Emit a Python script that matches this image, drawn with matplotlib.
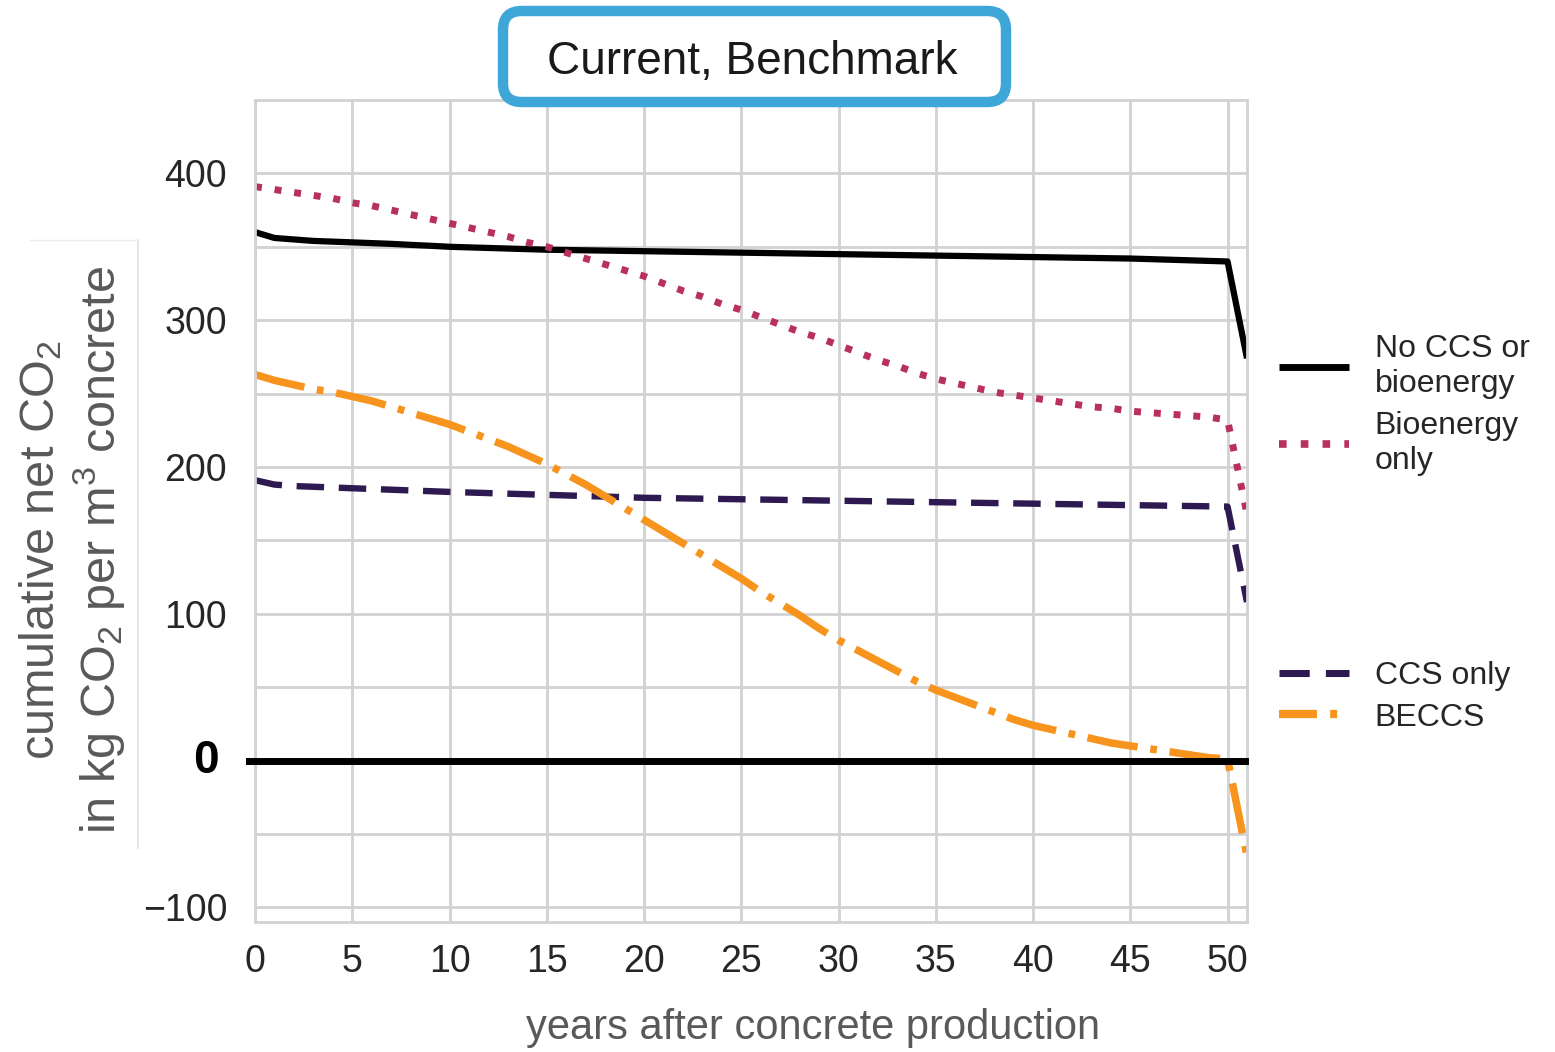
import matplotlib
matplotlib.use("Agg")
import matplotlib.pyplot as plt
from matplotlib.patches import FancyBboxPatch
from matplotlib.lines import Line2D
import matplotlib.transforms as mtransforms

plt.rcParams['font.family'] = ['Liberation Sans', 'DejaVu Sans']
plt.rcParams['mathtext.fontset'] = 'custom'
plt.rcParams['mathtext.rm'] = 'Liberation Sans'
plt.rcParams['mathtext.it'] = 'Liberation Sans:italic'

# ---------------- data ----------------
years = list(range(0, 52))

no_ccs = [360, 356, 355, 354, 353.5, 353, 352.5, 352, 351.3, 350.7, 350,
          349.6, 349.2, 348.8, 348.4, 348, 347.8, 347.6, 347.4, 347.2, 347,
          346.8, 346.6, 346.4, 346.2, 346, 345.8, 345.6, 345.4, 345.2, 345,
          344.8, 344.6, 344.4, 344.2, 344, 343.8, 343.6, 343.4, 343.2, 343,
          342.8, 342.6, 342.4, 342.2, 342, 341.6, 341.2, 340.8, 340.4, 340,
          274]

bioenergy = [391, 389, 387, 385, 383, 380, 378, 375, 372, 369, 366,
             363, 360, 357, 353, 350, 346, 342, 338, 334, 330,
             325, 320, 316, 311, 307, 302, 297, 292, 288, 283,
             278, 273, 269, 264, 260, 257, 254, 251, 249, 247,
             245, 243, 241, 240, 238, 237, 236, 235, 234, 232,
             168]

ccs_only = [191, 188, 187, 186.5, 186, 185.5, 185, 184.5, 184, 183.5, 183,
            182.6, 182.2, 181.8, 181.4, 181, 180.6, 180.2, 179.8, 179.4, 179,
            178.8, 178.6, 178.4, 178.2, 178, 177.8, 177.6, 177.4, 177.2, 177,
            176.8, 176.6, 176.4, 176.2, 176, 175.8, 175.6, 175.4, 175.2, 175,
            174.8, 174.6, 174.4, 174.2, 174, 173.8, 173.6, 173.4, 173.2, 173,
            108]

beccs = [263, 259, 256, 253, 251, 248, 245, 241, 237, 233, 229,
         224, 219, 214, 208, 202, 195, 188, 180, 172, 164,
         156, 148, 140, 132, 124, 115, 107, 99, 90, 82,
         75, 68, 61, 54, 48, 43, 38, 33, 28, 24,
         21, 18, 15, 12, 10, 8, 6, 4, 2, 1,
         -65]

labels = ["No CCS or\nbioenergy", "Bioenergy\nonly", "CCS only", "BECCS"]
x_ticks = list(range(0, 51, 5))
y_ticks = [-100, 0, 100, 200, 300, 400]
y_minor = [-50, 50, 150, 250, 350]
title = "Current, Benchmark"
xlabel = "years after concrete production"
ylabel = "cumulative net CO$_2$\nin kg CO$_2$ per m$^3$ concrete"

# ---------------- figure ----------------
W, H = 1555, 1052
fig = plt.figure(figsize=(W / 100, H / 100), dpi=100)
fig.patch.set_facecolor("white")

ax = fig.add_axes([255 / W, 1 - 922 / H, (1247 - 255) / W, (922 - 100) / H])
ax.set_facecolor("white")

grid_c = "#d2d2d2"
ax.set_xlim(0, 51)
ax.set_ylim(-110, 450)
ax.set_xticks(x_ticks)
ax.set_yticks(y_ticks)
ax.set_yticks(y_minor, minor=True)
ax.set_yticklabels(["\u2212100", "", "100", "200", "300", "400"])
ax.grid(True, which="both", color=grid_c, lw=2.0)
ax.set_axisbelow(True)
ax.tick_params(axis="x", which="both", length=0, labelsize=27,
               labelcolor="#262626", pad=16)
ax.tick_params(axis="y", which="both", length=0, labelsize=27,
               labelcolor="#262626", pad=20)
for s in ax.spines.values():
    s.set_color(grid_c)
    s.set_linewidth(2.0)

l1, = ax.plot(years, no_ccs, color="black", lw=4.5, solid_capstyle="butt",
              solid_joinstyle="round")
l2, = ax.plot(years, bioenergy, color="#b8305f", lw=5.0,
              linestyle=(0, (1, 1.85)), dash_capstyle="butt")
l3, = ax.plot(years, ccs_only, color="#2e1a50", lw=4.6,
              linestyle=(0, (4.3, 2.3)), dash_capstyle="butt")
l4, = ax.plot(years, beccs, color="#f7941e", lw=5.4,
              linestyle=(0, (6.8, 1.7, 0.9, 1.7)), dash_capstyle="butt")

# zero reference line
ax.axhline(0, xmin=-0.006, xmax=0.998, color="black", lw=5.0, clip_on=False,
           zorder=5)
trans = mtransforms.blended_transform_factory(ax.transAxes, ax.transData)
ax.text(-(255 - 219) / 992, 0, "0", transform=trans, ha="right", va="center",
        fontsize=33, fontweight="bold", color="black")

# legends
leg_kw = dict(loc="center left", bbox_transform=fig.transFigure,
              frameon=False, fontsize=23, handlelength=2.2,
              handletextpad=0.8, labelspacing=0.35)
leg1 = ax.legend([l1, l2], labels[:2],
                 bbox_to_anchor=(1250 / W, 1 - 405 / H), **leg_kw)
ax.add_artist(leg1)
leg2 = ax.legend([l3, l4], labels[2:],
                 bbox_to_anchor=(1250 / W, 1 - 697 / H), **leg_kw)
for leg in (leg1, leg2):
    for t in leg.get_texts():
        t.set_color("#262626")
        t.set_linespacing(1.25)
    for h in leg.get_lines():
        h.set_linewidth(h.get_linewidth() * 1.1)
leg2.get_lines()[1].set_linestyle((0, (4.6, 1.6, 0.85, 1.6)))

# axis labels
fig.text(813 / W, 1 - 1028 / H, xlabel, ha="center", va="center",
         fontsize=30, color="#595959")
fig.text(72 / W, 1 - 550 / H, ylabel, ha="center", va="center",
         rotation=90, fontsize=35, color="#595959", multialignment="center",
         linespacing=1.15)

# faint box border around y-label
fig.add_artist(Line2D([138 / W, 138 / W], [1 - 240 / H, 1 - 848 / H],
                      transform=fig.transFigure, color="#e2e2e2", lw=1.2))
fig.add_artist(Line2D([30 / W, 138 / W], [1 - 240 / H, 1 - 240 / H],
                      transform=fig.transFigure, color="#ececec", lw=1.0))

# title box
box = FancyBboxPatch((503 / W, 1 - 102 / H), (1006 - 503) / W, (102 - 11) / H,
                     boxstyle="round,pad=0,rounding_size=0.012",
                     transform=fig.transFigure, facecolor="white",
                     edgecolor="#3fa6d8", lw=7.5, zorder=10,
                     mutation_aspect=W / H)
fig.add_artist(box)
fig.text(752 / W, 1 - 62 / H, title, ha="center", va="center", fontsize=33,
         color="#1a1a1a", zorder=11)

fig.savefig("out.png", dpi=100, facecolor="white")
